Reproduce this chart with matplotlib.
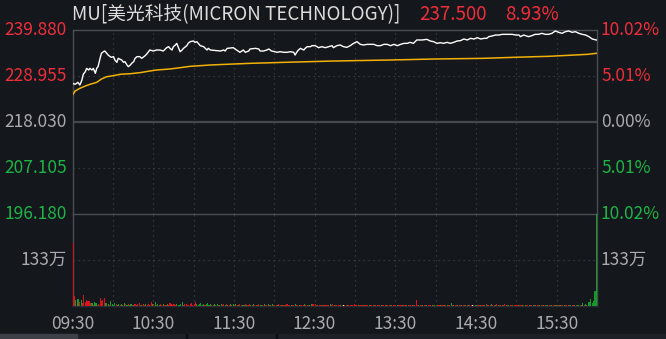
import matplotlib

matplotlib.use("Agg")
import matplotlib.pyplot as plt
from matplotlib.patches import Rectangle

plt.rcParams["font.family"] = ["Noto Sans CJK SC", "DejaVu Sans"]

# ---- data ----
PREV_CLOSE = 218.030
PRICE_TICKS = [239.880, 228.955, 218.030, 207.105, 196.180]
PCT_LABELS = ["10.02%", "5.01%", "0.00%", "5.01%", "10.02%"]
TIME_LABELS = ["09:30", "10:30", "11:30", "12:30", "13:30", "14:30", "15:30"]
TITLE = "MU[美光科技(MICRON TECHNOLOGY)]"
LAST_PRICE = "237.500"
LAST_PCT = "8.93%"
VOL_TICK = 133  # 万

price_min = [
    0, 2, 4, 5.5, 7, 8, 9.5, 10.5, 12, 13, 14.5, 15.5, 17, 18, 19, 20.5, 21.5, 23, 24, 25.5,
    26.5, 28, 29, 30.5, 31.5, 33, 34, 35.5, 36.5, 38, 39, 40.5, 41.5, 43, 44, 45.5, 46.5, 48,
    50, 51.5, 54, 55, 56.5, 57.5, 60, 62.5, 65, 67.5, 69, 70, 71.5, 72.5, 74, 75, 76.5, 77.5,
    79, 80, 81.5, 82.5, 85, 86, 87.5, 90, 91, 92.5, 93.5, 95, 97.5, 100, 101, 102.5, 107.5,
    110, 112.5, 113.5, 115, 119.5, 122, 124.5, 127, 128.5, 131, 132, 136, 138.5, 139.5, 142,
    144.5, 146, 148, 150.5, 152, 154.5, 157, 159.5, 162, 164.5, 165.5, 167, 168, 169.5, 170.5,
    172, 173, 174.5, 177, 178, 180.5, 183, 185.5, 188, 190.5, 193, 194, 196.5, 199, 201.5,
    204, 206.5, 209, 211.5, 214, 216.5, 219, 221.5, 224, 226.5, 229, 231.5, 234, 236.5, 239,
    241.5, 244, 246.5, 249, 251, 253.5, 256, 260, 263.5, 266, 268.5, 271, 273.5, 276, 278.5,
    281, 283.5, 286, 288.5, 291, 293.5, 296, 298.5, 301, 303.5, 306, 308, 309.5, 312, 314.5,
    317, 319.5, 322, 324.5, 327, 329.5, 332, 333, 335.5, 337, 339, 341.5, 344, 346.5, 349,
    351.5, 354, 356.5, 359, 361.5, 364, 366.5, 369, 371.5, 374, 376.5, 379, 381.5, 384,
    386.5, 389.5,
]
price_val = [
    227.22, 226.98, 227.45, 226.82, 228.00, 229.36, 229.98, 230.77, 230.38, 230.77, 230.38,
    230.77, 229.59, 230.77, 231.17, 233.15, 234.34, 234.73, 234.89, 234.34, 233.94, 233.55,
    233.39, 233.55, 232.76, 232.20, 233.15, 232.92, 232.76, 232.20, 232.36, 231.57, 231.17,
    231.57, 231.97, 232.36, 233.15, 233.55, 233.55, 233.15, 233.78, 234.10, 234.73, 235.13,
    234.89, 235.13, 235.13, 234.89, 235.37, 235.68, 235.92, 235.52, 235.13, 235.92, 236.32,
    236.71, 235.52, 234.73, 235.13, 235.52, 236.16, 236.71, 237.11, 237.27, 236.95, 237.11,
    236.71, 236.16, 235.92, 235.13, 235.52, 235.13, 234.97, 234.89, 235.13, 234.89, 235.52,
    235.68, 235.13, 234.58, 235.13, 234.58, 234.89, 235.37, 235.52, 235.37, 234.89, 234.89,
    235.13, 235.37, 234.89, 234.73, 234.58, 234.73, 234.58, 234.58, 234.73, 234.58, 233.94,
    234.73, 235.13, 235.52, 235.37, 235.13, 235.52, 235.92, 235.92, 236.16, 236.16, 235.68,
    235.92, 235.68, 235.92, 236.16, 235.68, 236.16, 236.32, 235.92, 235.76, 236.16, 236.71,
    237.11, 236.47, 236.32, 236.47, 236.47, 236.47, 236.16, 236.16, 236.47, 236.47, 236.16,
    236.47, 236.16, 236.47, 236.71, 236.71, 236.95, 236.71, 237.51, 237.51, 237.66, 237.27,
    237.11, 236.71, 236.87, 236.71, 236.95, 236.71, 236.95, 237.27, 237.35, 237.74, 237.51,
    237.90, 237.74, 238.06, 237.74, 237.90, 237.90, 238.30, 238.46, 238.69, 238.69, 238.85,
    238.85, 238.85, 238.85, 238.69, 238.69, 238.30, 238.69, 238.53, 238.30, 238.53, 238.85,
    238.85, 239.09, 238.85, 238.85, 239.09, 239.64, 239.33, 239.09, 239.48, 239.64, 239.33,
    239.48, 239.09, 238.85, 238.69, 238.30, 237.74, 237.50,
]

avg_min = [0, 2, 5.5, 9.5, 13, 18, 21.5, 25.5, 30.5, 35.5, 43, 50, 57.5, 62.5, 72.5, 80, 87.5,
           102.5, 119.5, 132, 157.5, 192.5, 237, 269, 305.5, 328, 354, 369, 383, 389.5]
avg_val = [224.44, 225.40, 226.03, 226.58, 226.98, 227.45, 228.24, 228.79, 229.03, 229.36,
           229.50, 229.74, 230.14, 230.38, 230.62, 230.93, 231.25, 231.57, 231.80, 231.96,
           232.20, 232.50, 232.76, 232.99, 233.15, 233.39, 233.63, 233.87, 234.10, 234.34]

# per-minute volume in 万, one row per half hour
volume = [
    183, 29, 17, 20, 20, 13, 17, 8, 32, 13, 17, 15, 14, 8, 8, 3, 13, 8, 3, 5, 22, 14, 17, 24, 8, 8, 6, 3, 14, 5,
    3, 10, 5, 4, 6, 3, 5, 4, 8, 5, 4, 6, 3, 5, 4, 3, 5, 4, 6, 8, 4, 3, 5, 4, 6, 3, 5, 4, 11, 5,
    5, 11, 4, 5, 3, 6, 4, 5, 3, 4, 5, 4, 8, 5, 3, 6, 4, 5, 3, 4, 5, 11, 4, 5, 6, 3, 4, 5, 9, 4,
    6, 12, 5, 4, 6, 9, 4, 5, 3, 5, 8, 4, 5, 3, 4, 6, 3, 5, 4, 3, 5, 4, 6, 3, 5, 4, 3, 5, 4, 6,
    4, 5, 3, 4, 5, 3, 4, 3, 5, 4, 3, 5, 3, 4, 5, 3, 4, 3, 5, 4, 3, 4, 5, 3, 4, 5, 3, 4, 7, 3,
    3, 4, 3, 5, 3, 4, 3, 4, 3, 5, 4, 3, 4, 3, 4, 6, 3, 4, 3, 4, 3, 4, 5, 3, 4, 3, 4, 6, 5, 6,
    6, 4, 3, 4, 3, 4, 3, 4, 3, 4, 3, 6, 4, 6, 3, 4, 3, 4, 3, 4, 3, 3, 4, 3, 4, 3, 4, 3, 4, 6,
    3, 4, 3, 4, 3, 3, 4, 3, 4, 3, 4, 3, 4, 3, 4, 3, 4, 3, 3, 4, 3, 4, 3, 4, 3, 4, 3, 4, 3, 4,
    3, 4, 3, 4, 3, 4, 3, 4, 3, 4, 3, 4, 3, 4, 4, 17, 4, 3, 4, 3, 4, 3, 4, 3, 4, 3, 4, 3, 4, 3,
    3, 4, 3, 4, 3, 4, 3, 4, 3, 4, 3, 8, 4, 3, 4, 3, 4, 3, 4, 3, 3, 4, 3, 4, 3, 4, 3, 4, 3, 4,
    4, 3, 4, 3, 4, 3, 4, 5, 4, 3, 4, 5, 4, 3, 4, 5, 4, 3, 4, 3, 4, 5, 4, 3, 4, 3, 4, 3, 4, 3,
    3, 4, 3, 4, 3, 4, 3, 4, 3, 4, 3, 4, 3, 4, 3, 4, 3, 4, 3, 4, 3, 4, 3, 4, 3, 4, 3, 4, 3, 4,
    3, 4, 3, 4, 3, 4, 3, 4, 3, 4, 3, 4, 3, 4, 3, 4, 3, 4, 3, 8, 4, 6, 4, 13, 13, 20, 8, 15, 43, 600,
]
# R = up minute, G = down minute, W = unchanged
vol_dir = (
    "RRGGGRGRRRRRRRGRGGRRRRRRGGGRGG"
    "GGRGGRGGGRGRGGRGRGRRRGRRGRRRRG"
    "RGRGGRRGRRGRRRRRRGGGGGRRRRRRRR"
    "RRGGGGGGRGGGGRGGRGRGGRRGRGRGRG"
    "RGRGRRGGRGRRGRGRRGRGGRGRRGRGGR"
    "RRGRRGRRGRRRGRRGRRGRRRGRRRGGRR"
    "RRGRRRGRRRRGRRGRRRRGRWRRGRRRRR"
    "RRGRRRGRRRGRRRGRRRRGRRRGRRRGRR"
    "RGRRRGRRGRRRGRRRRGRRGRRGRRRGRG"
    "RGRGRRGRGRRGRGRRGRRGRRGRGRRWRG"
    "GRRGRRGRGRRGRRGRGRRGRRGRGRRGRR"
    "RGRRGRGRRGRRGRGRRGRRGRGGRRGRRG"
    "RRGRRGRRGRGRRGRGGRGGRGGGGGGGGG"
)

# ---- style ----
BG = "#14171c"
GRID = "#3c3f46"
BORDER = "#4a4d54"
RED = "#ee2e3a"
GREEN = "#1db446"
GRAY_TXT = "#a9abb0"
AVG_COLOR = "#f2b107"
DIR_COLORS = {"R": "#d9131c", "G": "#139a27", "W": "#ffffff"}

W, H = 666, 339
fig = plt.figure(figsize=(W / 100, H / 100), dpi=100, facecolor=BG)

x0, x1 = 72.5, 597
y_top, y_mid, y_bot = 30, 214, 306


def box(ytop, ybot):
    return [x0 / W, 1 - ybot / H, (x1 - x0) / W, (ybot - ytop) / H]


ax_p = fig.add_axes(box(y_top, y_mid), facecolor=BG)
ax_v = fig.add_axes(box(y_mid, y_bot), facecolor=BG)

for ax in (ax_p, ax_v):
    ax.set_xlim(0, 390)
    ax.set_xticks([])
    ax.set_yticks([])
    for s in ax.spines.values():
        s.set_color(BORDER)
        s.set_linewidth(1)
    for k in range(1, 13):
        ax.axvline(k * 30, color=GRID, lw=0.9, ls=(0, (1, 3)), zorder=0)

# price panel
ax_p.set_ylim(PRICE_TICKS[-1], PRICE_TICKS[0])
for p in (PRICE_TICKS[1], PRICE_TICKS[3]):
    ax_p.axhline(p, color=GRID, lw=0.9, ls=(0, (1, 3)), zorder=0)
ax_p.axhline(PREV_CLOSE, color="#45484e", lw=1.6, zorder=1)
ax_p.spines["bottom"].set_visible(False)
ax_p.plot(avg_min, avg_val, color=AVG_COLOR, lw=1.1, zorder=3)
ax_p.plot(price_min, price_val, color="white", lw=1.0, zorder=4)

# volume panel
ax_v.set_ylim(0, 2 * VOL_TICK)
ax_v.axhline(VOL_TICK, color=GRID, lw=0.9, ls=(0, (1, 3)), zorder=0)
ax_v.spines["top"].set_color(BORDER)
ax_v.spines["bottom"].set_color("#2a2d33")
ax_v.bar([m + 0.5 for m in range(len(volume))], volume, width=0.8,
         color=[DIR_COLORS[c] for c in vol_dir], linewidth=0, zorder=3)

# labels
fs = 12.5
fs_title = 13.5
label_colors = [RED, RED, GRAY_TXT, GREEN, GREEN]
for p, pct, c in zip(PRICE_TICKS, PCT_LABELS, label_colors):
    yy = 1 - (y_top + (PRICE_TICKS[0] - p) / (PRICE_TICKS[0] - PRICE_TICKS[-1]) * (y_mid - y_top)) / H
    fig.text(67 / W, yy, f"{p:.3f}", color=c, fontsize=fs, ha="right", va="center")
    fig.text(601 / W, yy, pct, color=c, fontsize=fs, ha="left", va="center")

yv = 1 - 260 / H
fig.text(67 / W, yv, f"{VOL_TICK}万", color=GRAY_TXT, fontsize=fs, ha="right", va="center")
fig.text(601 / W, yv, f"{VOL_TICK}万", color=GRAY_TXT, fontsize=fs, ha="left", va="center")

for i, t in enumerate(TIME_LABELS):
    xx = x0 + (i * 60) / 390 * (x1 - x0)
    fig.text(xx / W, 1 - 324 / H, t, color=GRAY_TXT, fontsize=fs, ha="center", va="center")

fig.text(72 / W, 1 - 15 / H, TITLE, color="#dcdcdc", fontsize=fs_title, ha="left", va="center")
fig.text(419 / W, 1 - 15 / H, LAST_PRICE, color=RED, fontsize=fs_title, ha="left", va="center")
fig.text(505 / W, 1 - 15 / H, LAST_PCT, color=RED, fontsize=fs_title, ha="left", va="center")

# tab strip at the bottom
fig.patches.append(Rectangle((0, 0), 1, 5 / H, transform=fig.transFigure, color="#1d2026", zorder=0))
fig.patches.append(Rectangle((0, 0), 77 / W, 5 / H, transform=fig.transFigure, color="#3d4047", zorder=1))
for xs in (186, 276):
    fig.patches.append(Rectangle((xs / W, 0), 1 / W, 5 / H, transform=fig.transFigure,
                                 color="#0c0e12", zorder=1))

fig.savefig("out.png", dpi=100, facecolor=BG)
